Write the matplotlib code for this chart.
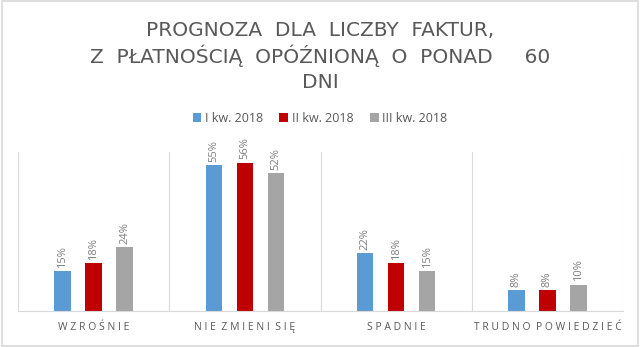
import matplotlib
matplotlib.use("Agg")
import matplotlib.pyplot as plt
import numpy as np
from matplotlib.patches import Rectangle

categories = ["WZROŚNIE", "NIE ZMIENI SIĘ", "SPADNIE", "TRUDNO POWIEDZIEĆ"]
series_names = ["I kw. 2018", "II kw. 2018", "III kw. 2018"]
q1 = [0.15, 0.55, 0.22, 0.08]
q2 = [0.18, 0.56, 0.18, 0.08]
q3 = [0.24, 0.52, 0.15, 0.10]
colors = ["#5B9BD5", "#C00000", "#A5A5A5"]
title_lines = ["PROGNOZA  DLA  LICZBY  FAKTUR,",
               "Z  PŁATNOŚCIĄ  OPÓŹNIONĄ  O  PONAD     60",
               "DNI"]

plt.rcParams['font.family'] = ['Open Sans', 'DejaVu Sans']

fig = plt.figure(figsize=(6.4, 3.47), dpi=100)
fig.patches.append(Rectangle((0.003, 0.003), 0.994, 0.994, transform=fig.transFigure,
                             fill=False, edgecolor="#D9D9D9", linewidth=1.2))
ax = fig.add_axes([18/640, 1-311/347, 605/640, (311-152)/347])

x = np.arange(len(categories))
w = 0.11
off = 0.205
for i, (vals, c, name) in enumerate(zip([q1, q2, q3], colors, series_names)):
    pos = x + (i - 1) * off
    ax.bar(pos, vals, w, color=c, label=name)
    for p, v in zip(pos, vals):
        ax.text(p, v + 0.012, f"{int(round(v*100))}%", rotation=90, ha="center", va="bottom",
                fontsize=8, color="#7F7F7F")

ax.set_xlim(-0.5, 3.5)
ax.set_ylim(0, 0.6)
ax.set_yticks([])
ax.set_xticks(x)
ax.set_xticklabels([" ".join(list(c)).replace("   ", "  ") for c in categories], fontsize=7.5, color="#595959")
ax.tick_params(axis="x", length=0, pad=8)
for s in ["top", "right", "left"]:
    ax.spines[s].set_visible(False)
ax.spines["bottom"].set_color("#D9D9D9")
for b in [-0.5, 0.5, 1.5, 2.5, 3.5]:
    ax.axvline(b, color="#D9D9D9", linewidth=0.8, zorder=0)

for yy, line in zip([30, 56, 82], title_lines):
    fig.text(0.5, 1-yy/347, line, ha="center", va="center", fontsize=14.5, color="#595959",
             family="DejaVu Sans")
fig.legend(loc="center", bbox_to_anchor=(0.5, 1-118/347), ncol=3, frameon=False,
           fontsize=9, handlelength=0.7, handleheight=0.7, handletextpad=0.3, columnspacing=1.3,
           labelcolor="#595959")

fig.savefig("out.png", dpi=100)
